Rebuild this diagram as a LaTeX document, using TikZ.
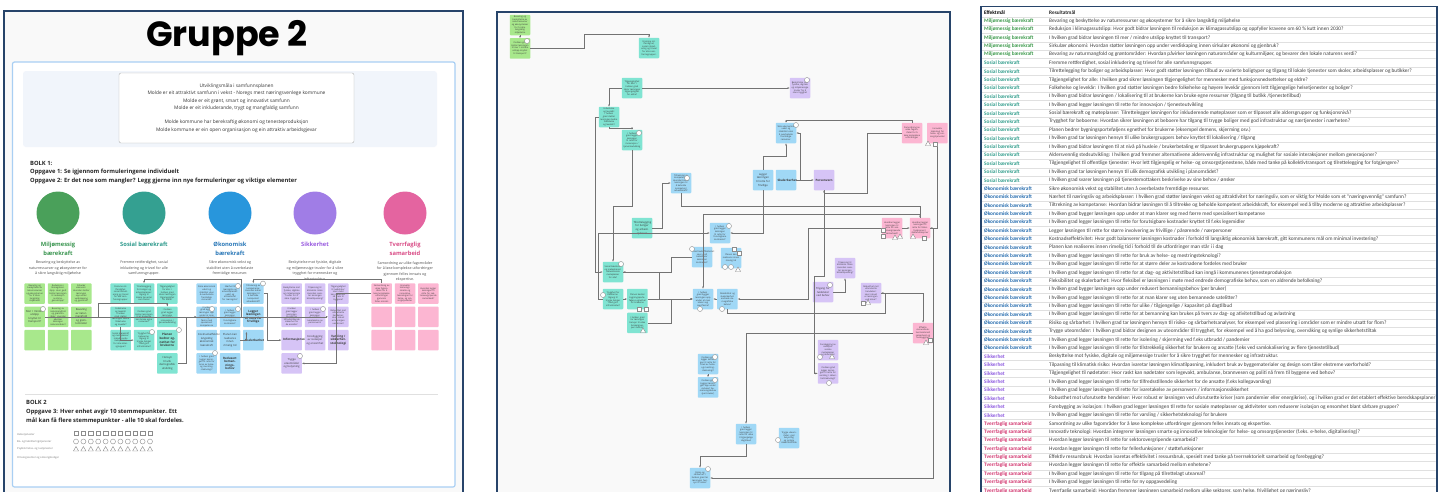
\documentclass[tikz,border=0pt]{standalone}
\usepackage{fontspec}
\setmainfont{Open Sans}
\newfontfamily\titlefont{Poppins}
\newfontfamily\sheetfont{Carlito}
\usetikzlibrary{arrows.meta,positioning,shapes.geometric}

\definecolor{navy}{HTML}{27446A}
\definecolor{boardbg}{HTML}{F9F9F9}
\definecolor{bandbg}{HTML}{F1F5FB}
\definecolor{panelline}{HTML}{A9CFF3}
\definecolor{milc}{HTML}{4AA05A}
\definecolor{sosc}{HTML}{34A091}
\definecolor{okoc}{HTML}{2896DC}
\definecolor{sikc}{HTML}{A07DE6}
\definecolor{tvec}{HTML}{E464A0}
\definecolor{milnote}{HTML}{A8E88C}
\definecolor{sosnote}{HTML}{80E4D2}
\definecolor{okonote}{HTML}{A0D8F6}
\definecolor{siknote}{HTML}{D6C4F6}
\definecolor{tvenote}{HTML}{FCB6D2}
\definecolor{millab}{HTML}{3A9550}
\definecolor{soslab}{HTML}{2E9A8C}
\definecolor{okolab}{HTML}{2A78B8}
\definecolor{siklab}{HTML}{9A5CE0}
\definecolor{tvelab}{HTML}{D94C86}
\definecolor{miltab}{HTML}{3D9A4C}
\definecolor{sostab}{HTML}{37A08F}
\definecolor{okotab}{HTML}{2A6FB0}
\definecolor{siktab}{HTML}{8E5BE0}
\definecolor{tvetab}{HTML}{D2346E}

\tikzstyle{panel} = [draw=navy,line width=1.6pt,fill=boardbg]
\tikzstyle{vision} = [draw=black!30,fill=white,rounded corners=2pt,minimum width=235pt,minimum height=70pt,inner sep=0,align=center,text=black!80,font=\fontsize{4.8}{7.3}\selectfont]
\tikzstyle{task} = [anchor=west,inner sep=0,text=black!85,font=\bfseries\fontsize{5.8}{7}\selectfont]
\tikzstyle{goal} = [circle,inner sep=0,minimum size=43pt]
\tikzstyle{catlabel} = [inner sep=0,align=center,font=\bfseries\fontsize{5.8}{9}\selectfont]
\tikzstyle{desc} = [anchor=north,inner sep=0,align=center,text=black!70,font=\fontsize{3.6}{5.5}\selectfont]
\tikzstyle{postit} = [inner sep=0,minimum size=20.5pt,rounded corners=0.8pt,text width=17pt,align=center,text=black!78,font=\fontsize{2.2}{2.6}\selectfont]
\tikzstyle{sparse} = [postit,font=\fontsize{2.7}{3.6}\selectfont]
\tikzstyle{oneline} = [postit,font=\bfseries\fontsize{3}{3.6}\selectfont]
\tikzstyle{vote} = [draw=black!45,fill=white,circle,inner sep=0,minimum size=5pt,line width=0.4pt]
\tikzstyle{votesq} = [draw=black!45,fill=white,inner sep=0,minimum size=4.5pt,line width=0.4pt]
\tikzstyle{votetri} = [draw=black!45,fill=white,regular polygon,regular polygon sides=3,inner sep=0,minimum size=6pt,line width=0.4pt]
\tikzstyle{link} = [draw=black!55,line width=0.55pt,-{Stealth[length=2.2pt,width=1.8pt]}]
\tikzstyle{legend} = [anchor=west,inner sep=0,text=black!55,font=\fontsize{2.6}{3}\selectfont]
\tikzstyle{catcell} = [anchor=west,inner sep=0,font=\sheetfont\bfseries\fontsize{5.3}{6}\selectfont]
\tikzstyle{goalcell} = [anchor=west,inner sep=0,text=black!75,font=\sheetfont\fontsize{5.3}{6}\selectfont]
\tikzstyle{rowline} = [draw=black!12,line width=0.4pt]

\newcommand{\postit}[5]{\node[postit,fill=#4] (#1) at (#2,#3) {#5};}
\newcommand{\goalrow}[4]{%
  \node[catcell,text=#2] (cat#1) at (984,{12.5+8.39*#1}) {#3};
  \node[goalcell] (res#1) at (1049,{12.5+8.39*#1}) {#4};
  \draw[rowline] (982,{16.7+8.39*#1}) -- (1436,{16.7+8.39*#1});}
\newcommand{\milrow}[2]{\goalrow{#1}{miltab}{Miljømessig bærekraft}{#2}}
\newcommand{\sosrow}[2]{\goalrow{#1}{sostab}{Sosial bærekraft}{#2}}
\newcommand{\okorow}[2]{\goalrow{#1}{okotab}{Økonomisk bærekraft}{#2}}
\newcommand{\sikrow}[2]{\goalrow{#1}{siktab}{Sikkerhet}{#2}}
\newcommand{\tverow}[2]{\goalrow{#1}{tvetab}{Tverrfaglig samarbeid}{#2}}

\begin{document}
\begin{tikzpicture}[x=1pt,y=-1pt]
  \useasboundingbox[fill=white] (0,0) rectangle (1444,491);

  % ---------- board: Gruppe 2
  \draw[panel] (4,11) rectangle (463,505);
  \node[anchor=base,inner sep=0,font=\titlefont\bfseries\fontsize{35}{40}\selectfont] (title) at (227,46) {Gruppe 2};
  \draw[draw=panelline,line width=1.2pt,fill=white,rounded corners=2pt] (12.5,62) rectangle (455,487);
  \fill[bandbg,rounded corners=3pt] (23,71) rectangle (437,147);
  \node[vision] (vision) at (236.5,108) {Utviklingsmåla i samfunnsplanen\\
    Molde er eit attraktivt samfunn i vekst - Noregs mest næringsvenlege kommune\\
    Molde er eit grønt, smart og innovativt samfunn\\
    Molde er eit inkluderande, trygt og mangfaldig samfunn\\[7.3pt]
    Molde kommune har berekraftig økonomi og tenesteproduksjon\\
    Molde kommune er ein open organisasjon og ein attraktiv arbeidsgjevar};

  \node[task] (bolk1) at (30,163) {BOLK 1:};
  \node[task] (oppg1) at (30,172) {Oppgave 1: Se igjennom formuleringene individuelt};
  \node[task] (oppg2) at (30,181) {Oppgave 2: Er det noe som mangler? Legg gjerne inn nye formuleringer og viktige elementer};

  \node[goal,fill=milc] (milgoal) at (58,213) {};
  \node[goal,fill=sosc] (sosgoal) at (144,213) {};
  \node[goal,fill=okoc] (okogoal) at (230,213) {};
  \node[goal,fill=sikc] (sikgoal) at (315,213) {};
  \node[goal,fill=tvec] (tvegoal) at (405,213) {};
  \node[catlabel,text=millab] (millabel) at (58,248.5) {Miljømessig\\bærekraft};
  \node[catlabel,text=soslab] (soslabel) at (144,244) {Sosial bærekraft};
  \node[catlabel,text=okolab] (okolabel) at (230,248.5) {Økonomisk\\bærekraft};
  \node[catlabel,text=siklab] (siklabel) at (315,244) {Sikkerhet};
  \node[catlabel,text=tvelab] (tvelabel) at (405,248.5) {Tverrfaglig\\samarbeid};
  \node[desc] (mildesc) at (58,261) {Bevaring og beskyttelse av\\naturressurser og økosystemer for\\å sikre langsiktig miljøhelse};
  \node[desc] (sosdesc) at (144,261) {Fremme rettferdighet, sosial\\inkludering og trivsel for alle\\samfunnsgrupper.};
  \node[desc] (okodesc) at (230,261) {Sikre økonomisk vekst og\\stabilitet uten å overbelaste\\fremtidige ressurser.};
  \node[desc] (sikdesc) at (315,261) {Beskyttelse mot fysiske, digitale\\og miljømessige trusler for å sikre\\trygghet for mennesker og\\infrastruktur.};
  \node[desc] (tvedesc) at (405,261) {Samordning av ulike fagområder\\for å løse komplekse utfordringer\\gjennom felles innsats og\\ekspertise.};

  % sticky notes, one grid per goal
  \postit{mil-1-1}{34.7}{293.5}{milnote}{Bevaring og beskyttelse av naturressurser og økosystemer for å sikre langsiktig miljøhelse}
  \postit{mil-1-2}{58}{293.5}{milnote}{Reduksjon i klimagassutslipp: Hvor godt bidrar løsningen til reduksjon av klimagassutslipp?}
  \postit{mil-1-3}{81.3}{293.5}{milnote}{Sirkulær økonomi: Hvordan støtter løsningen opp under verdiskaping og gjenbruk?}
  \node[sparse,fill=milnote] (mil-2-1) at (34.7,316.8) {Mer / mindre utslipp knyttet til transport?};
  \postit{mil-2-2}{58}{316.8}{milnote}{Bevaring av naturmangfold og grøntområder: Hvordan påvirker løsningen naturområder?}
  \node[sparse,fill=milnote] (mil-2-3) at (81.3,316.8) {Bevaring av naturmangfold og grøntområder};
  \foreach \c/\x in {1/34.7,2/58,3/81.3}
    \node[postit,fill=milnote] (mil-3-\c) at (\x,340.1) {};

  \postit{sos-1-1}{120.7}{293.5}{sosnote}{Fremme rettferdighet, sosial inkludering og trivsel for alle samfunnsgrupper.}
  \postit{sos-1-2}{144}{293.5}{sosnote}{Tilrettelegging for boliger og arbeidsplasser: tilgang til lokale tjenester som skoler}
  \postit{sos-1-3}{167.3}{293.5}{sosnote}{Tilgjengelighet for alle: I hvilken grad sikrer løsningen tilgjengelighet for eldre?}
  \postit{sos-2-1}{120.7}{316.8}{sosnote}{Folkehelse og levekår: I hvilken grad støtter løsningen bedre folkehelse og levekår?}
  \postit{sos-2-2}{144}{316.8}{sosnote}{I hvilken grad bidrar løsningen til at brukerne kan bruke egne ressurser?}
  \postit{sos-2-3}{167.3}{316.8}{sosnote}{I hvilken grad legger løsningen til rette for innovasjon / tjenesteutvikling}
  \postit{sos-3-1}{120.7}{340.1}{sosnote}{Sosial bærekraft og møteplasser: inkluderende møteplasser for alle aldersgrupper?}
  \postit{sos-3-2}{144}{340.1}{sosnote}{Trygghet for beboerne: tilgang til trygge boliger med god infrastruktur?}
  \node[oneline,fill=sosnote] (sos-3-3) at (167.3,340.1) {Planen bedrer egnethet for brukerne};
  \node[sparse,fill=sosnote] (sos-4-3) at (167.3,363.4) {Hensyn til ulik demografisk utvikling};

  \postit{oko-1-1}{206.7}{293.5}{okonote}{Sikre økonomisk vekst og stabilitet uten å overbelaste fremtidige ressurser.}
  \postit{oko-1-2}{230}{293.5}{okonote}{Nærhet til næringsliv og arbeidsplasser: vekst og attraktivitet for næringsliv?}
  \postit{oko-1-3}{253.3}{293.5}{okonote}{Tiltrekning av kompetanse: Hvordan bidrar løsningen til å beholde kompetent arbeidskraft?}
  \postit{oko-2-1}{206.7}{316.8}{okonote}{I hvilken grad bygger løsningen opp under at man klarer seg med færre med spesialisert kompetanse}
  \postit{oko-2-2}{230}{316.8}{okonote}{I hvilken grad legger løsningen til rette for forutsigbare kostnader?}
  \node[oneline,fill=okonote] (oko-2-3) at (253.3,316.8) {Legger løsningen til rette for frivillige};
  \node[sparse,fill=okonote] (oko-3-1) at (206.7,340.1) {Kostnadseffektivitet: langsiktig økonomisk bærekraft};
  \node[sparse,fill=okonote] (oko-3-2) at (230,340.1) {Planen kan realiseres innen rimelig tid};
  \node[oneline,fill=okonote] (oko-3-3) at (253.3,340.1) {Skalerbarhet};
  \postit{oko-4-1}{206.7}{363.4}{okonote}{I hvilken grad legger løsningen til rette for bruk av helse- og mestringsteknologi?}
  \node[oneline,fill=okonote] (oko-4-2) at (230,363.4) {Redusert bemanningsbehov};

  \postit{sik-1-1}{291.7}{293.5}{siknote}{Beskyttelse mot fysiske, digitale og miljømessige trusler for å sikre trygghet}
  \postit{sik-1-2}{315}{293.5}{siknote}{Tilpasning til klimatisk risiko: Hvordan ivaretar løsningen klimatilpasning?}
  \postit{sik-1-3}{338.3}{293.5}{siknote}{Tilgjengelighet til nødetater: Hvor raskt kan nødetater nå frem til byggene?}
  \postit{sik-2-1}{291.7}{316.8}{siknote}{I hvilken grad legger løsningen til rette for tilfredsstillende sikkerhet for de ansatte?}
  \postit{sik-2-2}{315}{316.8}{siknote}{I hvilken grad legger løsningen til rette for ivaretakelse av personvern?}
  \postit{sik-2-3}{338.3}{316.8}{siknote}{Robusthet mot uforutsette hendelser: Hvor robust er løsningen ved kriser?}
  \node[oneline,fill=siknote] (sik-3-1) at (291.7,340.1) {Informasjonssikkerhet};
  \node[sparse,fill=siknote] (sik-3-2) at (315,340.1) {Forebygging av isolasjon og ensomhet};
  \node[oneline,fill=siknote] (sik-3-3) at (338.3,340.1) {Varsling / sikkerhetsteknologi};
  \node[sparse,fill=siknote] (sik-4-1) at (291.7,363.4) {Trygge uteområder og belysning};

  \postit{tve-1-1}{381.7}{293.5}{tvenote}{Samordning av ulike fagområder for å løse komplekse utfordringer gjennom felles innsats}
  \postit{tve-1-2}{405}{293.5}{tvenote}{Innovativ teknologi: smarte og innovative teknologier for helse- og omsorgstjenester}
  \postit{tve-1-3}{428.3}{293.5}{tvenote}{Hvordan legger løsningen til rette for sektorovergripende samarbeid?}
  \foreach \r/\y in {2/316.8,3/340.1}
    \foreach \c/\x in {1/381.7,2/405,3/428.3}
      \node[postit,fill=tvenote] (tve-\r-\c) at (\x,\y) {};

  % links between the notes
  \coordinate (okojoin) at (241.7,316.8);
  \draw[link] (mil-2-1.east) -- (sik-2-3.west);
  \draw[link] (mil-2-3.east) -- ++(7,0) -- ++(0,-14) -| (sos-2-3.north);
  \draw[link] (okojoin) -- ++(0,-37.8) -| (sos-1-2.north);
  \draw[link] (tve-1-1.north) -- ++(0,-4) -| (oko-1-3.north);
  \draw[link] (tve-1-1.west) -| ++(-35,69.9) -- (sik-4-1.east);
  \draw[link] (oko-1-3.east) -- ++(4,0) |- (sik-3-1.west);
  \draw[link] (sos-4-3.east) -- ++(8.5,0) |- (oko-2-1.west);
  \draw[link] (sos-2-1.south) |- (sos-3-2.west);
  \draw[link] (oko-3-2.east) -- ++(6,0) -- ++(0,-8);

  % votes on the notes
  \node[vote] (v-mil-2-1) at (43,309) {};
  \node[vote] (v-oko-1-2) at (238,286) {};
  \node[vote] (v-oko-1-3) at (263,283.5) {};
  \node[vote] (v-oko-2-1) at (212,309) {};
  \node[vote] (v-oko-2-2) at (238,309) {};
  \node[vote] (v-sos-3-2) at (152,332) {};
  \node[vote] (v-sos-3-3) at (179,330) {};
  \node[vote] (v-oko-4-1) at (215,353) {};
  \node[vote] (v-sik-2-2) at (323,309) {};
  \node[vote] (v-sik-4-1) at (300,356) {};

  \draw[black!12,line width=0.6pt] (25,394) -- (438,394);
  \node[task] (bolk2) at (26,402) {BOLK 2};
  \node[task] (oppg3) at (26,412) {Oppgave 3: Hver enhet avgir 10 stemmepunkter. Ett};
  \node[task] (oppg3b) at (26,421) {mål kan få flere stemmepunkter - alle 10 skal fordeles.};
  \node[legend] (leg1) at (17,435) {Helsetjenester};
  \node[legend] (leg2) at (17,442) {Bo- og habiliteringstjenester};
  \node[legend] (leg3) at (17,449) {Psykisk helse- og rustjenester};
  \node[legend] (leg4) at (17,458) {Omsorgssenter og omsorgsboliger};
  \foreach \i in {0,...,10} {
    \node[votesq] (sq\i) at ({76+7.4*\i},433) {};
    \node[vote] (ci\i) at ({76+7.4*\i},441.5) {};
    \node[votetri] (tr\i) at ({76+7.4*\i},449.5) {};
  }

  % ---------- board: sorted notes
  \draw[panel] (497,12) rectangle (950,505);
  \postit{mil1}{520}{25}{milnote}{Bevaring og beskyttelse av naturressurser og økosystemer for å sikre langsiktig miljøhelse}
  \node[postit,fill=milnote,below=2.5pt of mil1] (mil2) {I hvilken grad bidrar løsningen til mer / mindre utslipp knyttet til transport?};
  \postit{sos1}{649}{48}{sosnote}{Fremme rettferdighet, sosial inkludering og trivsel for alle samfunnsgrupper.}
  \postit{sos2}{632}{88}{sosnote}{Tilgjengelighet for alle: I hvilken grad sikrer løsningen tilgjengelighet for eldre?}
  \postit{sos3}{609}{117}{sosnote}{Folkehelse og levekår: I hvilken grad støtter løsningen bedre folkehelse og levekår?}
  \postit{sos4}{632}{140}{sosnote}{I hvilken grad legger løsningen til rette for innovasjon / tjenesteutvikling}
  \node[sparse,fill=sosnote] (sos5) at (642,228) {Tilrettelegging for boliger og arbeidsplasser};
  \postit{sos6}{613}{272}{sosnote}{Sosial bærekraft og møteplasser: inkluderende møteplasser for alle?}
  \postit{sos7}{613}{299}{sosnote}{Trygghet for beboerne: tilgang til trygge boliger med god infrastruktur?}
  \node[postit,fill=sosnote,right=3.5pt of sos7] (sos8) {Planen bedrer bygningsporteføljens egnethet for brukerne};
  \node[postit,fill=sosnote,below=3pt of sos8] (sos9) {I hvilken grad tar løsningen hensyn til ulike brukergruppers behov?};

  \postit{sik1}{800}{88}{siknote}{Beskyttelse mot fysiske, digitale og miljømessige trusler for å sikre trygghet}
  \node[oneline,fill=siknote] (sik2) at (824,180) {Personvern};
  \postit{sik3}{845}{268}{siknote}{Tilpasning til klimatisk risiko: Hvordan ivaretar løsningen klimatilpasning?}
  \node[sparse,fill=siknote] (sik4) at (823,292) {Tilgang for nødetater ved behov};
  \postit{sik5}{871}{293}{siknote}{Robusthet mot uforutsette hendelser: Hvor robust er løsningen ved kriser?}
  \postit{sik6}{828}{350}{siknote}{Forebygging av isolasjon: sosiale møteplasser og aktiviteter}
  \node[postit,fill=siknote,below=2.5pt of sik6] (sik7) {I hvilken grad legger løsningen til rette for varsling / sikkerhetsteknologi?};

  \postit{oko1}{786}{133}{okonote}{Sikre økonomisk vekst og stabilitet uten å overbelaste fremtidige ressurser.}
  \postit{oko2}{681}{183}{okonote}{Tiltrekning av kompetanse: Hvordan bidrar løsningen til å beholde kompetent arbeidskraft?}
  \node[sparse,fill=okonote] (oko3) at (763,180) {Legger løsningen til rette for frivillige};
  \node[oneline,fill=okonote] (oko4) at (786,180) {Skalerbarhet};
  \postit{oko5}{720}{233}{okonote}{I hvilken grad legger løsningen til rette for forutsigbare kostnader?}
  \postit{oko6}{702}{257}{okonote}{Kostnadseffektivitet: Hvor godt balanserer løsningen kostnader?}
  \postit{oko7}{731}{258}{okonote}{Planen kan realiseres innen rimelig tid}
  \postit{oko8}{703}{299}{okonote}{I hvilken grad bygger løsningen opp under at man klarer seg med færre?}
  \node[postit,fill=okonote,right=3.5pt of oko8] (oko9) {Fleksibilitet og skalerbarhet: endrede demografiske behov?};
  \postit{oko10}{708}{364}{okonote}{I hvilken grad legger løsningen til rette for bruk av helse- og mestringsteknologi?}
  \node[postit,fill=okonote,below=2.5pt of oko10] (oko11) {I hvilken grad bygger løsningen opp under redusert bemanningsbehov (per bruker)};
  \postit{oko12}{746}{434}{okonote}{I hvilken grad legger løsningen til rette for ulike / tilgjengelige dagtilbud}
  \postit{oko13}{789}{438}{okonote}{Trygge uteområder: god belysning og synlige sikkerhetstiltak}
  \postit{oko14}{700}{478}{okonote}{Risiko og sårbarhet: I hvilken grad tar løsningen hensyn til risiko?}

  \postit{tve1}{912}{133}{tvenote}{Samordning av ulike fagområder for å løse komplekse utfordringer}
  \node[postit,fill=tvenote,right=4.5pt of tve1] (tve2) {Innovativ teknologi for helse- og omsorgstjenester};
  \postit{tve3}{892}{228}{tvenote}{Hvordan legger løsningen til rette for sektorovergripende samarbeid?}
  \postit{tve4}{920}{228}{tvenote}{Hvordan legger løsningen til rette for fellesfunksjoner / støttefunksjoner}
  \postit{tve5}{923}{333}{tvenote}{Effektiv ressursbruk: tverrsektorielt samarbeid og forebygging?}

  \draw[link] (mil1.south) -- (mil2.north);
  \draw[link] (mil2.east) -| (584,34) -| (sos1.north);
  \draw[link] (sos2.east) -- (sik1.west);
  \draw[link] (sos2.west) -| (sos3.north);
  \draw[link] (sos3.south) -- ++(0,1.2) -| (sos4.north);
  \draw[link] (sos4.south) -- ++(0,56) -| (sos6.north);
  \draw[link] (sos3.west) -- ++(-3,0) |- (sos6.west);
  \draw[link] (tve1.north) -- ++(0,-2) -| (oko1.north);
  \draw[link] (tve1.west) -- ++(-34,0) -- ++(0,60) -| (sik2.south);
  \draw[link] (sik2.south) -- ++(0,86) -- ++(-10,0) |- (sik7.west);
  \draw[link] (oko3.north) -- ++(0,-13) -| (oko1.south);
  \draw[link] (oko3.south) |- (oko5.east);
  \draw[link] (oko4.east) -- (sik2.west);
  \draw[link] (oko4.east) -- ++(3.5,0) |- (oko1.east);
  \draw[link] (oko2.south) -- ++(0,13) -| (tve4.north);
  \draw[link] (tve4.north) -- ++(0,-3) -| (oko8.north);
  \draw[link] (sos5.east) -- ++(10,0) |- (oko2.west);
  \draw[link] (sos7.west) -- ++(-4,0) |- (oko5.west);
  \draw[link] (oko6.west) -- ++(-20,0) |- (sos6.east);
  \draw[link] (sos6.east) -- ++(36,0) |- (oko8.west);
  \draw[link] (sos7.east) -- (sos8.west);
  \draw[link] (sos8.east) -- (oko8.west);
  \draw[link] (sos9.east) -- ++(23,0) |- (oko8.west);
  \draw[link] (oko9.west) -- (oko8.east);
  \draw[link] (tve3.west) -- ++(-73,0) |- (oko9.east);
  \draw[link] (oko9.south) -- ++(0,4) -- ++(158,0) |- (sik5.east);
  \draw[link] (sik5.east) -| (tve5.north);
  \draw[link] (sik4.east) -| (sik3.south);
  \draw[link] (tve2.south) |- (tve4.east);
  \draw[link] (tve3.east) -- (tve4.west);
  \draw[link] (tve4.east) -- ++(3,0) |- (oko14.east);
  \draw[link] (tve5.west) -| (oko12.north);
  \draw[link] (oko12.south) -- ++(0,12) -| (oko14.north);
  \draw[link] (oko10.south) -- (oko11.north);

  \node[vote] (v-mil2) at (527,41) {};
  \node[vote] (v-sik1) at (807,80) {};
  \node[vote] (v-sos4) at (639,133) {};
  \node[vote] (v-oko1) at (796,125) {};
  \node[votetri] (w-tve2a) at (928,144) {};
  \node[votesq] (w-tve2b) at (935,144) {};
  \node[vote] (v-oko2) at (687,178) {};
  \node[vote] (v-oko5) at (729,226) {};
  \node[votesq] (w-tve3a) at (883,230) {};
  \node[votesq] (w-tve3b) at (883,236) {};
  \node[votetri] (w-tve3c) at (895,238) {};
  \node[votetri] (w-tve3d) at (900,237) {};
  \node[votetri] (w-tve4a) at (913,237) {};
  \node[votesq] (w-tve4b) at (924,238) {};
  \node[vote] (v-oko6) at (692,249) {};
  \node[votesq] (w-oko7a) at (734,249) {};
  \node[votesq] (w-oko7b) at (739,253) {};
  \node[vote] (w-oko7c) at (725,267) {};
  \node[vote] (w-oko7d) at (731,267) {};
  \node[votetri] (w-oko7e) at (738,270) {};
  \node[vote] (v-sos6) at (621,264) {};
  \node[vote] (v-sik4) at (830,285) {};
  \node[votesq] (w-sik5a) at (863,303) {};
  \node[votetri] (w-sik5b) at (868,303) {};
  \node[vote] (v-sos7) at (603,295) {};
  \node[votesq] (w-sos8a) at (639,309) {};
  \node[votesq] (w-sos8b) at (646,309) {};
  \node[vote] (v-oko8) at (700,309) {};
  \node[vote] (v-oko9) at (722,309) {};
  \node[votetri] (w-sos9) at (643,331) {};
  \node[votesq] (w-tve5a) at (930,340) {};
  \node[votetri] (w-tve5b) at (926,343) {};
  \node[vote] (v-sik6) at (820,357) {};
  \node[votetri] (w-sik6) at (832,357) {};
  \node[vote] (v-sik7) at (829,383) {};
  \node[vote] (v-oko10) at (715,357) {};
  \node[vote] (v-oko11) at (715,380) {};
  \node[vote] (v-oko13) at (778,440) {};
  \node[vote] (v-oko14) at (708,469) {};

  % ---------- sheet: Effektmål / Resultatmål
  \draw[panel,fill=white] (981,6.5) rectangle (1437,505);
  \begin{scope}
    \clip (982,0) rectangle (1435.5,491);
    \node[catcell,text=black] (effekt) at (984,12.5) {Effektmål};
    \node[catcell,text=black!85] (resultat) at (1049,12.5) {Resultatmål};
    \draw[rowline] (982,16.7) -- (1436,16.7);
    \milrow{1}{Bevaring og beskyttelse av naturressurser og økosystemer for å sikre langsiktig miljøhelse}
    \milrow{2}{Reduksjon i klimagassutslipp: Hvor godt bidrar løsningen til reduksjon av klimagassutslipp og oppfyller kravene om 60 \% kutt innen 2030?}
    \milrow{3}{I hvilken grad bidrar løsningen til mer / mindre utslipp knyttet til transport?}
    \milrow{4}{Sirkulær økonomi: Hvordan støtter løsningen opp under verdiskaping innen sirkulær økonomi og gjenbruk?}
    \milrow{5}{Bevaring av naturmangfold og grøntområder: Hvordan påvirker løsningen naturområder og kulturmiljøer, og bevarer den lokale naturens verdi?}
    \sosrow{6}{Fremme rettferdighet, sosial inkludering og trivsel for alle samfunnsgrupper.}
    \sosrow{7}{Tilrettelegging for boliger og arbeidsplasser: Hvor godt støtter løsningen tilbud av varierte boligtyper og tilgang til lokale tjenester som skoler, arbeidsplasser og butikker?}
    \sosrow{8}{Tilgjengelighet for alle: I hvilken grad sikrer løsningen tilgjengelighet for mennesker med funksjonsnedsettelser og eldre?}
    \sosrow{9}{Folkehelse og levekår: I hvilken grad støtter løsningen bedre folkehelse og høyere levekår gjennom lett tilgjengelige helsetjenester og boliger?}
    \sosrow{10}{I hvilken grad bidrar løsningen / lokalisering til at brukerne kan bruke egne ressurser (tilgang til butikk /tjenestetilbud)}
    \sosrow{11}{I hvilken grad legger løsningen til rette for innovasjon / tjenesteutvikling}
    \sosrow{12}{Sosial bærekraft og møteplasser: Tilrettelegger løsningen for inkluderende møteplasser som er tilpasset alle aldersgrupper og funksjonsnivå?}
    \sosrow{13}{Trygghet for beboerne: Hvordan sikrer løsningen at beboere har tilgang til trygge boliger med god infrastruktur og nærtjenester i nærheten?}
    \sosrow{14}{Planen bedrer bygningsporteføljens egnethet for brukerne (eksempel demens, skjerming osv.)}
    \sosrow{15}{I hvilken grad tar løsningen hensyn til ulike brukergruppers behov knyttet til lokalisering / tilgang}
    \sosrow{16}{I hvilken grad bidrar løsningen til at nivå på husleie / brukerbetaling er tilpasset brukergruppens kjøpekraft?}
    \sosrow{17}{Aldersvennlig stedsutvikling: I hvilken grad fremmer alternativene aldersvennlig infrastruktur og mulighet for sosiale interaksjoner mellom generasjoner?}
    \sosrow{18}{Tilgjengelighet til offentlige tjenester: Hvor lett tilgjengelig er helse- og omsorgstjenestene, både med tanke på kollektivtransport og tilrettelegging for fotgjengere?}
    \sosrow{19}{I hvilken grad tar løsningen hensyn til ulik demografisk utvikling i planområdet?}
    \sosrow{20}{I hvilken grad svarer løsningen på tjenestemottakers beskrivelse av sine behov / ønsker}
    \okorow{21}{Sikre økonomisk vekst og stabilitet uten å overbelaste fremtidige ressurser.}
    \okorow{22}{Nærhet til næringsliv og arbeidsplasser: I hvilken grad støtter løsningen vekst og attraktivitet for næringsliv, som er viktig for Molde som et "næringsvennlig" samfunn?}
    \okorow{23}{Tiltrekning av kompetanse: Hvordan bidrar løsningen til å tiltrekke og beholde kompetent arbeidskraft, for eksempel ved å tilby moderne og attraktive arbeidsplasser?}
    \okorow{24}{I hvilken grad bygger løsningen opp under at man klarer seg med færre med spesialisert kompetanse}
    \okorow{25}{I hvilken grad legger løsningen til rette for forutsigbare kostnader knyttet til f.eks legemidler}
    \okorow{26}{Legger løsningen til rette for større involvering av frivillige / pårørende / nærpersoner}
    \okorow{27}{Kostnadseffektivitet: Hvor godt balanserer løsningen kostnader i forhold til langsiktig økonomisk bærekraft, gitt kommunens mål om minimal investering?}
    \okorow{28}{Planen kan realiseres innen rimelig tid i forhold til de utfordringer man står i i dag}
    \okorow{29}{I hvilken grad legger løsningen til rette for bruk av helse- og mestringsteknologi?}
    \okorow{30}{I hvilken grad legger løsningen til rette for at større deler av kostnadene fordeles med bruker}
    \okorow{31}{I hvilken grad legger løsningen til rette for at dag- og aktivitetstilbud kan inngå i kommunenes tjenesteproduksjon}
    \okorow{32}{Fleksibilitet og skalerbarhet: Hvor fleksibel er løsningen i møte med endrede demografiske behov, som en aldrende befolkning?}
    \okorow{33}{I hvilken grad bygger løsningen opp under redusert bemanningsbehov (per bruker)}
    \okorow{34}{I hvilken grad legger løsningen til rette for at man klarer seg uten bemannede satelitter?}
    \okorow{35}{I hvilken grad legger løsningen til rette for ulike / tilgjengelige / kapasitet på dagtilbud}
    \okorow{36}{I hvilken grad legger løsningen til rette for at bemanning kan brukes på tvers av dag- og ativitetstilbud og avlastning}
    \okorow{37}{Risiko og sårbarhet: I hvilken grad tar løsningen hensyn til risiko- og sårbarhetsanalyser, for eksempel ved plassering i områder som er mindre utsatt for flom?}
    \okorow{38}{Trygge uteområder: I hvilken grad bidrar designen av uteområder til trygghet, for eksempel ved å ha god belysning, overvåking og synlige sikkerhetstiltak}
    \okorow{39}{I hvilken grad legger løsningen til rette for isolering / skjerming ved f.eks utbrudd / pandemier}
    \okorow{40}{I hvilken grad legger løsningen til rette for tilstrekkelig sikkerhet for brukere og ansatte (f.eks ved samlokalisering av flere tjenestetilbud)}
    \sikrow{41}{Beskyttelse mot fysiske, digitale og miljømessige trusler for å sikre trygghet for mennesker og infrastruktur.}
    \sikrow{42}{Tilpasning til klimatisk risiko: Hvordan ivaretar løsningen klimatilpasning, inkludert bruk av byggematerialer og design som tåler ekstreme værforhold?}
    \sikrow{43}{Tilgjengelighet til nødetater: Hvor raskt kan nødetater som legevakt, ambulanse, brannvesen og politi nå frem til byggene ved behov?}
    \sikrow{44}{I hvilken grad legger løsningen til rette for tilfredsstillende sikkerhet for de ansatte (f.eks kollegavarsling)}
    \sikrow{45}{I hvilken grad legger løsningen til rette for ivaretakelse av personvern / informasjonssikkerhet}
    \sikrow{46}{Robusthet mot uforutsette hendelser: Hvor robust er løsningen ved uforutsette kriser (som pandemier eller energikrise), og i hvilken grad er det etablert effektive beredskapsplaner?}
    \sikrow{47}{Forebygging av isolasjon: I hvilken grad legger løsningen til rette for sosiale møteplasser og aktiviteter som reduserer isolasjon og ensomhet blant sårbare grupper?}
    \sikrow{48}{I hvilken grad legger løsningen til rette for varsling / sikkerhetsteknologi for brukere}
    \tverow{49}{Samordning av ulike fagområder for å løse komplekse utfordringer gjennom felles innsats og ekspertise.}
    \tverow{50}{Innovativ teknologi: Hvordan integrerer løsningen smarte og innovative teknologier for helse- og omsorgstjenester (f.eks. e-helse, digitalisering)?}
    \tverow{51}{Hvordan legger løsningen til rette for sektorovergripende samarbeid?}
    \tverow{52}{Hvordan legger løsningen til rette for fellesfunksjoner / støttefunksjoner}
    \tverow{53}{Effektiv ressursbruk: Hvordan ivaretas effektivitet i ressursbruk, spesielt med tanke på tverrsektorielt samarbeid og forebygging?}
    \tverow{54}{Hvordan legger løsningen til rette for effektiv samarbeid mellom enhetene?}
    \tverow{55}{I hvilken grad legger løsningen til rette for tilgang på tilrettelagt uteareal?}
    \tverow{56}{I hvilken grad legger løsningen til rette for ny oppgavedeling}
    \tverow{57}{Tverrfaglig samarbeid: Hvordan fremmer løsningen samarbeid mellom ulike sektorer, som helse, frivillighet og næringsliv?}
  \end{scope}
\end{tikzpicture}
\end{document}
